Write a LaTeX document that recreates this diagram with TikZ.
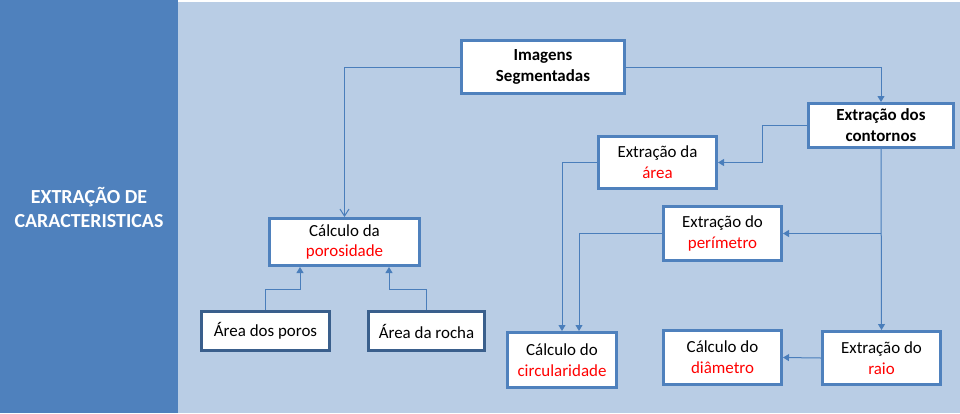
\documentclass[tikz,border=0pt]{standalone}
\usepackage{fontspec}
\setmainfont{Carlito}
\usetikzlibrary{arrows.meta}
\definecolor{panel}{HTML}{4F81BD}
\definecolor{bgblue}{HTML}{B9CDE5}
\definecolor{boxline}{HTML}{4F81BD}
\definecolor{darkline}{HTML}{3A5F8C}
\definecolor{conn}{HTML}{4A7EBB}
\definecolor{redtxt}{HTML}{FF0000}
\tikzset{
  box/.style={draw=boxline, line width=3bp, fill=white, align=center, inner sep=0pt,
    font=\fontsize{17}{21}\selectfont},
  boldbox/.style={box, font=\fontsize{17}{21}\selectfont\bfseries},
  darkbox/.style={box, draw=darkline},
  arr/.style={draw=conn, line width=1bp, -{Triangle[width=7bp,length=6bp]}},
  openarr/.style={draw=conn, line width=1bp, -{Straight Barb[width=9bp,length=7bp,line width=1bp]}}
}
\begin{document}
\begin{tikzpicture}[x=1bp,y=-1bp]
\useasboundingbox (0,0) rectangle (960,413);
\fill[bgblue] (0,0) rectangle (960,413);
\fill[white] (178,0) rectangle (960,1.5);
\fill[panel] (0,0) rectangle (178,413);
\node[text=white, align=center, font=\fontsize{20}{24}\selectfont\bfseries] (title) at (89,207) {EXTRAÇÃO DE\\CARACTERISTICAS};

% boxes
\node[boldbox, minimum width=163bp, minimum height=53bp] (img) at (543,67) {Imagens\\Segmentadas};
\node[box, minimum width=150bp, minimum height=47bp] (por) at (344.5,242) {Cálculo da\\{\color{redtxt}porosidade}};
\node[boldbox, minimum width=145bp, minimum height=44bp] (cont) at (881,125.5) {Extração dos\\contornos};
\node[box, minimum width=118bp, minimum height=52bp] (area) at (657.5,162.5) {Extração da\\{\color{redtxt}área}};
\node[box, minimum width=118bp, minimum height=54bp] (per) at (722.5,233.5) {Extração do\\{\color{redtxt}perímetro}};
\node[box, minimum width=109bp, minimum height=55bp] (circ) at (562,360) {Cálculo do\\{\color{redtxt}circularidade}};
\node[box, minimum width=118bp, minimum height=54bp] (diam) at (722.5,357.5) {Cálculo do\\{\color{redtxt}diâmetro}};
\node[box, minimum width=118bp, minimum height=53bp] (raio) at (881.5,358) {Extração do\\{\color{redtxt}raio}};
\node[darkbox, minimum width=128bp, minimum height=39bp] (poros) at (265.5,331) {Área dos poros};
\node[darkbox, minimum width=116bp, minimum height=39bp] (rocha) at (426.5,331) {Área da rocha};

% connectors
\draw[openarr] (img.west) -| (por.north);
\draw[arr] (img.east) -| (cont.north);
\draw[arr] (cont.west) -- ++(-45,0) |- (area.east);
\draw[arr] (cont.south) -- (raio.north);
\draw[arr] (cont.south |- per.east) -- (per.east);
\draw[arr] (area.west) -| (circ.north);
\draw[arr] (per.west) -| ([xshift=17bp]circ.north);
\draw[arr] (raio.west) -- (diam.east);
\draw[arr] (poros.north) -- ++(0,-21) -| ([xshift=-44.5bp]por.south);
\draw[arr] (rocha.north) -- ++(0,-21) -| ([xshift=44.5bp]por.south);
\end{tikzpicture}
\end{document}
